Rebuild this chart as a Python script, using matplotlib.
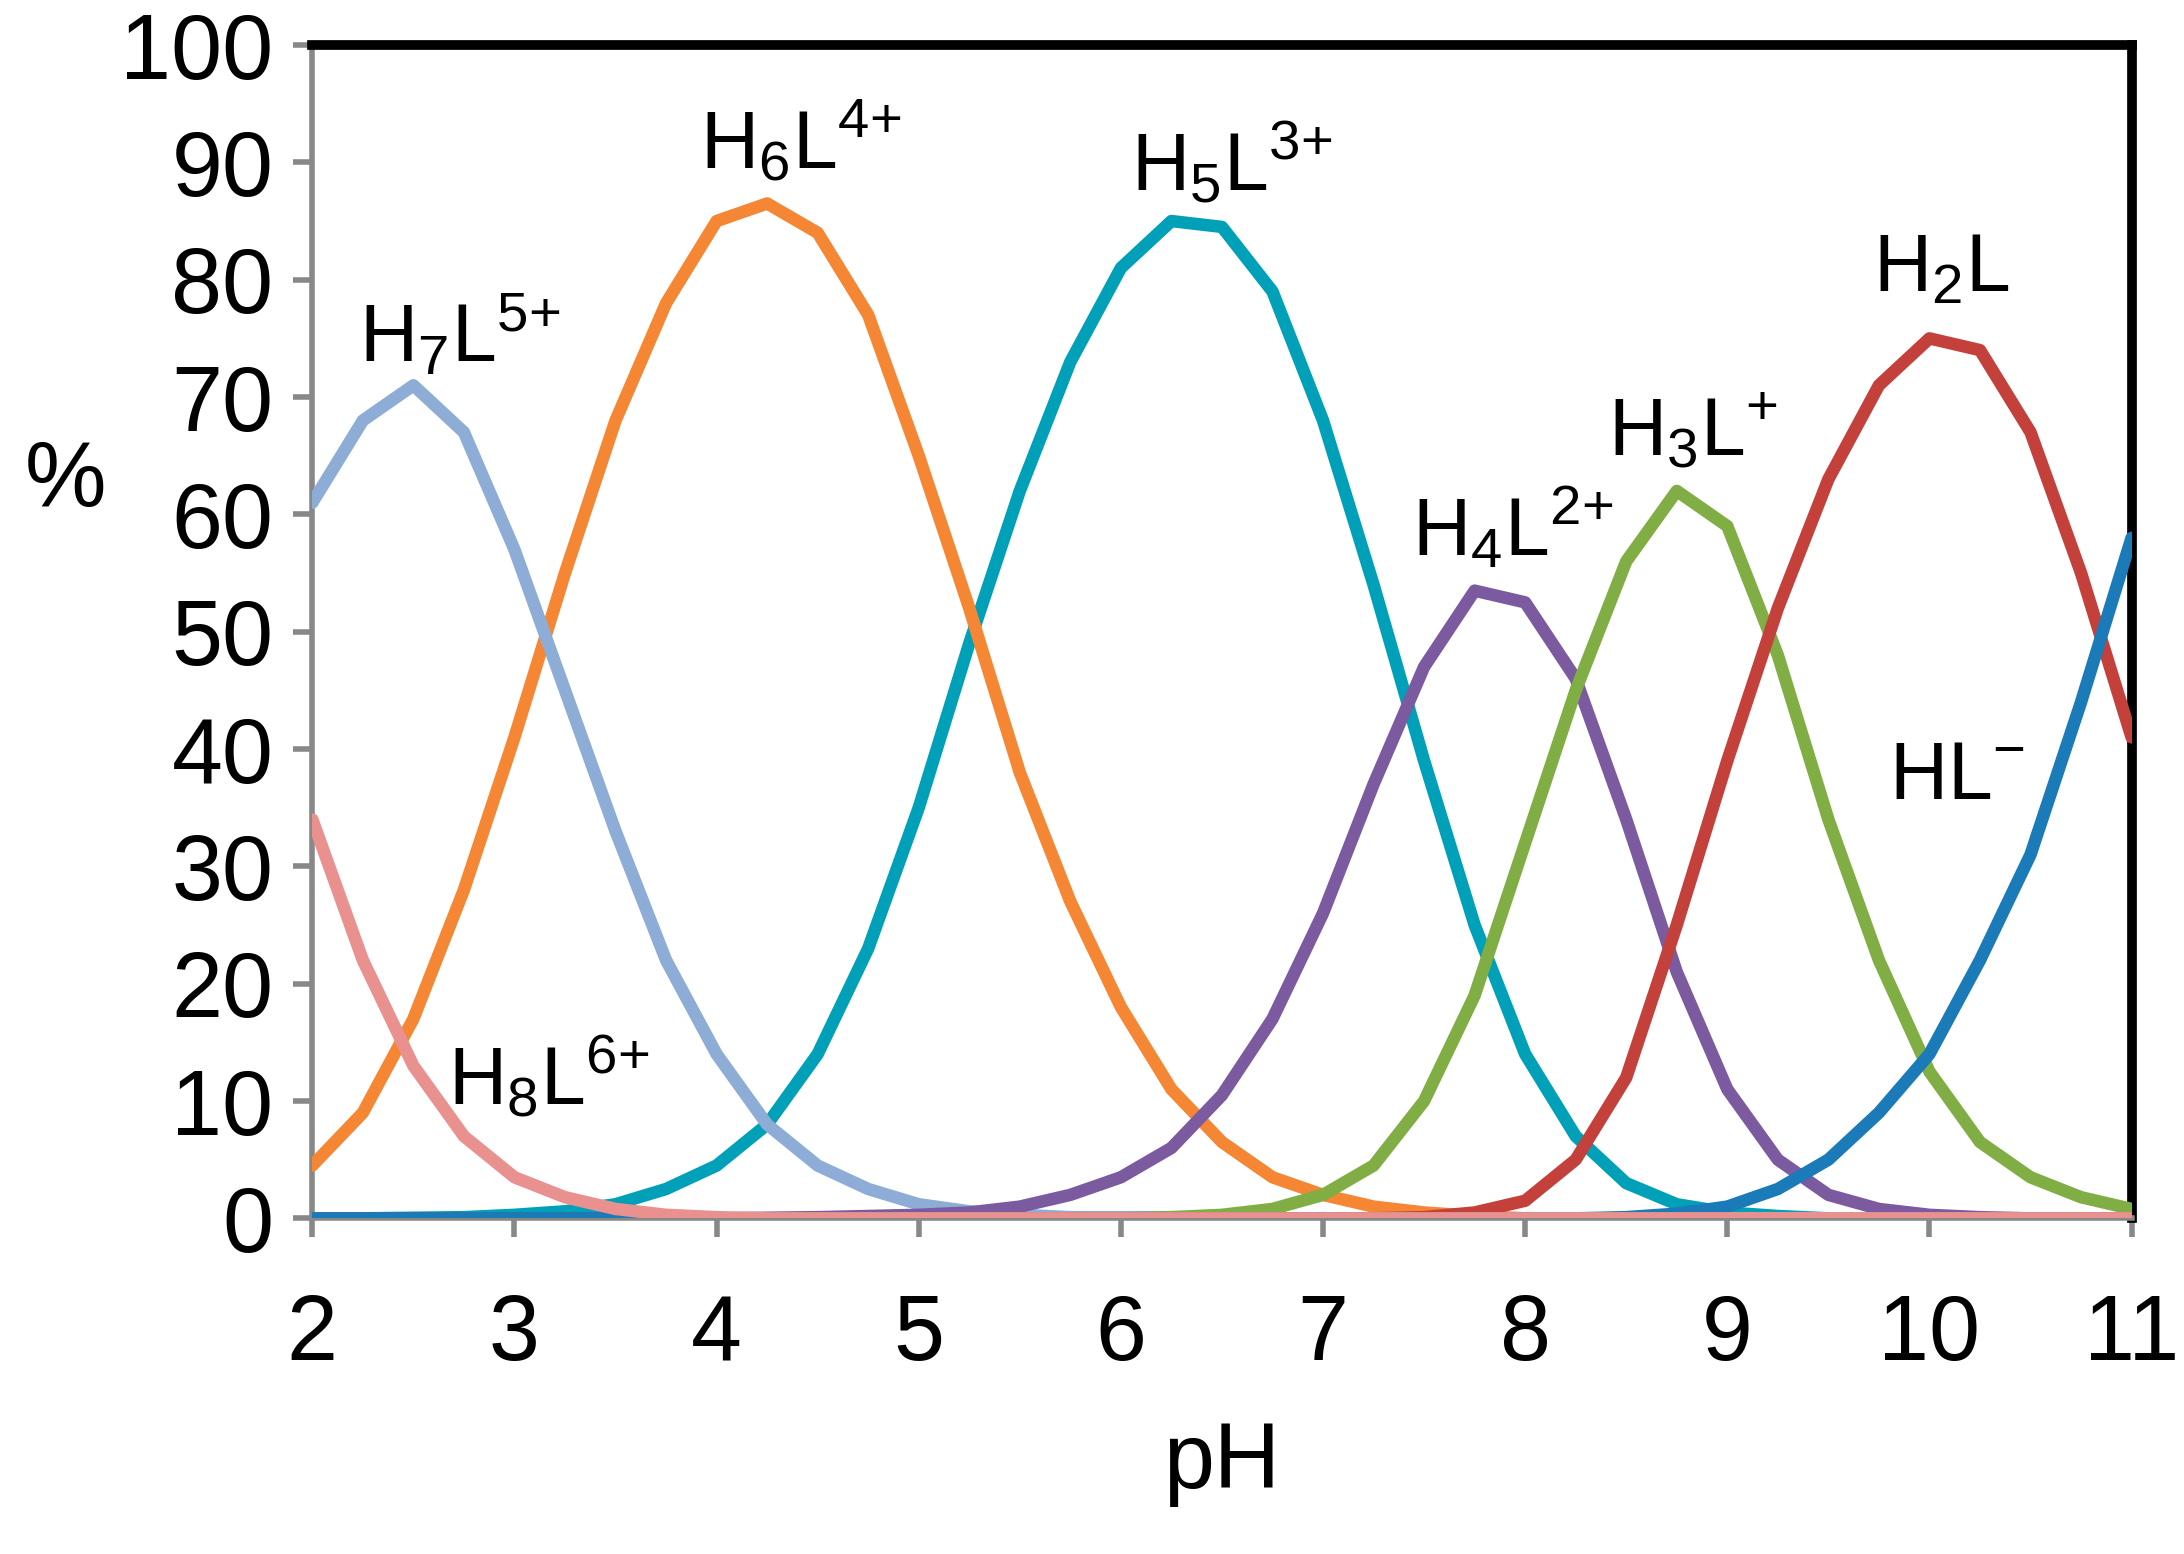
import numpy as np
import matplotlib
matplotlib.use("Agg")
import matplotlib.pyplot as plt

plt.rcParams['font.family'] = ['Liberation Sans', 'DejaVu Sans']
plt.rcParams['mathtext.default'] = 'regular'

ph = np.arange(2, 11.001, 0.25)
H8L = [34,22,13,7,3.5,1.8,0.8,0.3,0.1] + [0]*28
H7L = [61,68,71,67,57,45,33,22,14,8,4.5,2.5,1.2,0.6,0.3] + [0.1]*4 + [0]*18
H6L = [4.5,9,17,28,41,55,68,78,85,86.5,84,77,65,52,38,27,18,11,6.5,3.5,2,1,0.5,0.2] + [0]*13
H5L = [0,0,0.05,0.1,0.3,0.6,1.2,2.5,4.5,8,14,23,35,49,62,73,81,85,84.5,79,68,54,39,25,14,7,3,1.2,0.5,0.2] + [0]*7
H4L = [0]*8 + [0,0.05,0.1,0.2,0.3,0.5,1,2,3.5,6,10.5,17,26,37,47,53.5,52.5,46,34,21,11,5,2,0.8,0.3,0.1,0,0,0]
H3L = [0]*16 + [0,0.1,0.3,0.8,2,4.5,10,19,32,45,56,62,59,48,34,22,12.5,6.5,3.5,1.8,0.8]
H2L = [0]*22 + [0.1,0.5,1.5,5,12,25,39,52,63,71,75,74,67,55,41]
HL = [0]*26 + [0.1,0.4,1,2.5,5,9,14,22,31,44,58]

series = [(H8L,'#E8918F'),(H7L,'#8EADD6'),(H6L,'#F58634'),(H5L,'#00A0B8'),
          (H4L,'#7B5AA0'),(H3L,'#80AE45'),(H2L,'#C4403B'),(HL,'#1B7AB8')]

fig = plt.figure(figsize=(21.84,15.54), dpi=100)
ax = fig.add_axes([0.143,0.216,0.833,0.755])
order = [3,2,1,4,5,6,7,0]
for i in order:
    ax.plot(ph, series[i][0], color=series[i][1], lw=9, solid_joinstyle='round',
            solid_capstyle='round', zorder=3)
ax.set_xlim(2,11); ax.set_ylim(0,100)
ax.set_xticks(range(2,12)); ax.set_yticks(range(0,101,10))
ax.tick_params(labelsize=66, length=14, width=4, color='#888888')
ax.tick_params(axis='x', pad=40)
ax.tick_params(axis='y', pad=14)
for s in ['top','right']:
    ax.spines[s].set_linewidth(7); ax.spines[s].set_color('black')
ax.spines['left'].set_color('#888888'); ax.spines['left'].set_linewidth(4)
ax.spines['bottom'].set_color('#888888'); ax.spines['bottom'].set_linewidth(4)
ax.set_xlabel('pH', fontsize=66, labelpad=30)
fig.text(0.03, 0.69, '%', fontsize=66, ha='center', va='center')

labels = [(2.23,73,r'H$_7$L$^{5{+}}$'),(3.92,89.5,r'H$_6$L$^{4{+}}$'),(6.05,87.6,r'H$_5$L$^{3{+}}$'),
          (7.44,56.5,r'H$_4$L$^{2{+}}$'),(8.41,65,r'H$_3$L$^{{+}}$'),(9.72,79,r'H$_2$L'),
          (9.8,35.7,r'HL$^{{-}}$'),(2.67,9.7,r'H$_8$L$^{6{+}}$')]
for x,y,t in labels:
    ax.text(x,y,t,fontsize=58,ha='left',va='baseline',zorder=5)
fig.savefig('out.png', dpi=100)
